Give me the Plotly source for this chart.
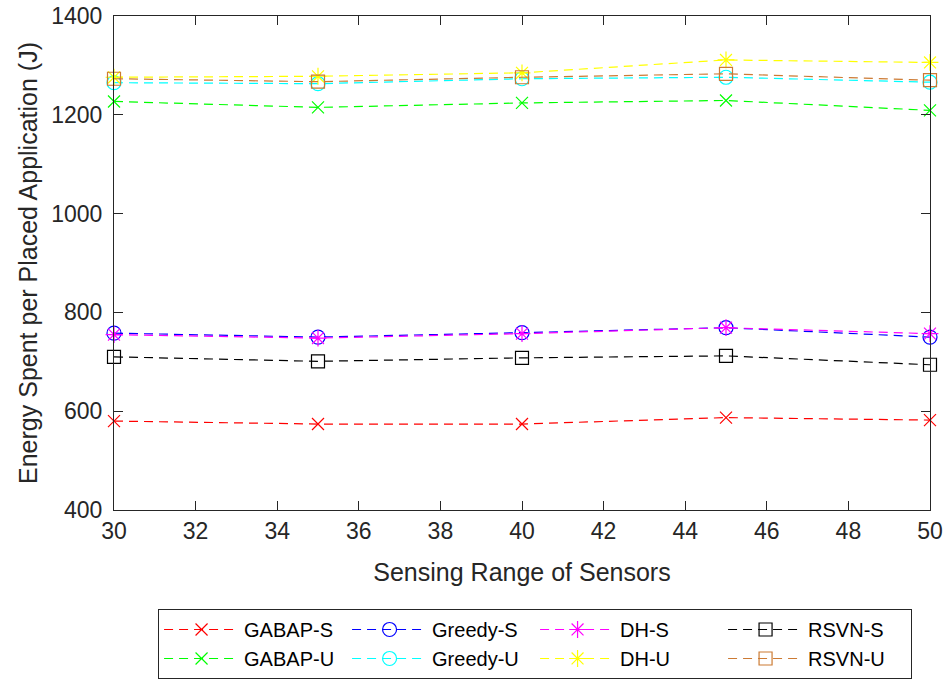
import plotly.graph_objects as go

# sensing range on x axis
sensing_range = [30, 35, 40, 45, 50]

# energy per placed application (J)
gabap_s = [580, 574, 574, 587, 582]
greedy_s = [758, 750, 759, 769, 750]
dh_s = [755, 748, 757, 769, 757]
rsvn_s = [710, 701, 708, 712, 694]
gabap_u = [1227, 1215, 1224, 1229, 1209]
greedy_u = [1265, 1263, 1273, 1276, 1266]
dh_u = [1276, 1278, 1285, 1311, 1306]
rsvn_u = [1273, 1267, 1276, 1283, 1270]

series_names = ["GABAP-S", "Greedy-S", "DH-S", "RSVN-S",
                "GABAP-U", "Greedy-U", "DH-U", "RSVN-U"]
series_values = [gabap_s, greedy_s, dh_s, rsvn_s,
                 gabap_u, greedy_u, dh_u, rsvn_u]
colors = ["#ff0000", "#0000ff", "#ff00ff", "#000000",
          "#00ff00", "#00ffff", "#ffff00", "#cc7a33"]
symbols = ["x-thin-open", "circle-open", "asterisk-open", "square-open"] * 2
sizes = [12, 14, 14, 13] * 2

fig = go.Figure()
for name, vals, col, sym, sz in zip(series_names, series_values, colors, symbols, sizes):
    fig.add_trace(go.Scatter(
        x=sensing_range, y=vals, name=name, mode="lines+markers",
        line=dict(color=col, width=1.2, dash="9px,6px"),
        marker=dict(symbol=sym, size=sz, color=col, line=dict(color=col, width=1.2)),
        cliponaxis=False,
    ))

axis_style = dict(
    showline=True, linecolor="#262626", linewidth=1.2, mirror="ticks",
    ticks="inside", ticklen=9, tickcolor="#262626", showgrid=False, zeroline=False,
    tickfont=dict(size=23, color="#262626"), automargin=False,
)

fig.update_layout(
    width=950, height=681,
    margin=dict(l=114, r=20, t=16, b=171, autoexpand=False),
    paper_bgcolor="white", plot_bgcolor="white",
    font=dict(family="Liberation Sans, Arial, sans-serif", color="#262626"),
    xaxis=dict(range=[30, 50], dtick=2, tick0=30,
               title=dict(text="Sensing Range of Sensors", font=dict(size=25), standoff=20),
               **axis_style),
    yaxis=dict(range=[400, 1400], dtick=200, ticklabelstandoff=6,
               title=dict(text="Energy Spent per Placed Application (J)", font=dict(size=25), standoff=6),
               **axis_style),
    legend=dict(orientation="h", x=0.054, xanchor="left", y=-0.2004, yanchor="top",
                bordercolor="#262626", borderwidth=1, bgcolor="white",
                font=dict(size=20, color="#000000"),
                entrywidth=98, entrywidthmode="pixels", tracegroupgap=0,
                itemwidth=75),
)

# drop the default page margin so the figure sits at the window corner
fig.write_html("out.html", config={"displayModeBar": False},
               post_script="document.body.style.margin='0';")
